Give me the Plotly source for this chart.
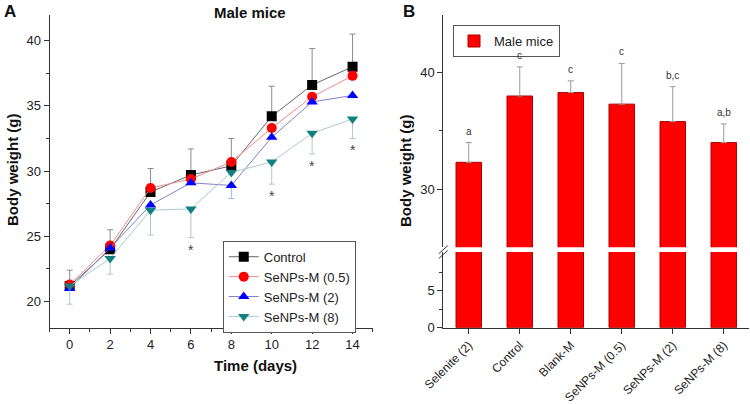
import plotly.graph_objects as go

# Panel A: body weight over time
days = [0, 2, 4, 6, 8, 10, 12, 14]
control = [21.2, 24.0, 28.4, 29.7, 30.4, 34.2, 36.6, 38.0]
control_sd = [1.2, 1.5, 1.8, 2.0, 2.1, 2.3, 2.8, 2.5]
senp_05 = [21.3, 24.3, 28.7, 29.4, 30.7, 33.3, 35.7, 37.3]
senp_2 = [21.0, 24.1, 27.4, 29.1, 28.9, 32.6, 35.3, 35.8]
senp_2_sd = [0, 0, 0, 0, 1.0, 0, 0, 0]
senp_8 = [21.2, 23.3, 27.0, 27.1, 29.9, 30.7, 32.9, 34.0]
senp_8_sd = [1.4, 1.2, 1.9, 2.2, 0, 1.7, 1.6, 1.5]
star_days = [6, 10, 12, 14]

# Panel B: final body weight
groups = ['Selenite (2)', 'Control', 'Blank-M', 'SeNPs-M (0.5)',
          'SeNPs-M (2)', 'SeNPs-M (8)']
final_weight = [32.3, 38.0, 38.3, 37.3, 35.8, 34.0]
final_sd = [1.7, 2.5, 1.0, 3.5, 3.0, 1.6]
letters = ['a', 'c', 'c', 'c', 'b,c', 'a,b']

FONT = 'Arial, Liberation Sans, sans-serif'
AXIS = '#333333'

fig = go.Figure()

series = [
    ('Control', control, 'square', '#000000', '#666666',
     dict(type='data', array=control_sd, symmetric=False,
          arrayminus=[0] * 8, color='#8c8c8c')),
    ('SeNPs-M (0.5)', senp_05, 'circle', '#ff0000', '#f08a8a', None),
    ('SeNPs-M (2)', senp_2, 'triangle-up', '#0000ff', '#8080c8',
     dict(type='data', array=[0] * 8, symmetric=False,
          arrayminus=senp_2_sd, color='#a8b8d8')),
    ('SeNPs-M (8)', senp_8, 'triangle-down', '#128080', '#a8cccc',
     dict(type='data', array=[0] * 8, symmetric=False,
          arrayminus=senp_8_sd, color='#b0c8c8')),
]
for name, ys, sym, mcol, lcol, err in series:
    fig.add_trace(go.Scatter(
        x=days, y=ys, name=name, mode='lines+markers',
        line=dict(color=lcol, width=1),
        marker=dict(symbol=sym, size=10, color=mcol),
        error_y=dict(err, thickness=1, width=3) if err else None,
        xaxis='x', yaxis='y', legend='legend',
    ))

for d in star_days:
    i = days.index(d)
    fig.add_annotation(
        x=d, y=senp_8[i] - senp_8_sd[i], xref='x', yref='y',
        text='*', showarrow=False, yanchor='top', yshift=-2,
        font=dict(size=14, color='#444444', family=FONT),
    )

# Panel B bars, drawn on both halves of the broken axis
for ya, xa, show in [('y2', 'x2', False), ('y3', 'x3', True)]:
    fig.add_trace(go.Bar(
        x=groups, y=final_weight, name='Male mice', width=0.5,
        marker=dict(color='#ff0000', line=dict(color='#b00000', width=1)),
        error_y=dict(type='data', array=final_sd, symmetric=False,
                     arrayminus=[0] * 6, color='#9a9a9a',
                     thickness=1, width=3) if show else None,
        xaxis=xa, yaxis=ya, showlegend=show, legend='legend2',
    ))

for g, v, s, t in zip(groups, final_weight, final_sd, letters):
    fig.add_annotation(
        x=g, y=v + s, xref='x3', yref='y3', text=t, showarrow=False,
        yanchor='bottom', yshift=4,
        font=dict(size=10, color='#333333', family=FONT),
    )

axis_common = dict(
    showline=True, linecolor=AXIS, linewidth=1, ticks='outside',
    ticklen=5, tickcolor=AXIS, showgrid=False, zeroline=False,
    automargin=False,
    tickfont=dict(size=13, color='#222222', family=FONT),
)
title_font = dict(size=15, color='#111111', family=FONT, weight='bold')

fig.update_layout(
    width=750, height=404,
    margin=dict(l=0, r=0, t=0, b=0),
    plot_bgcolor='white', paper_bgcolor='white',
    font=dict(family=FONT),
    xaxis=dict(
        axis_common, domain=[0.066, 0.497], range=[-1, 15],
        tickvals=days, anchor='y',
        minor=dict(ticks='outside', ticklen=3, dtick=1, tickcolor=AXIS),
    ),
    yaxis=dict(
        axis_common, domain=[0.189, 0.964], range=[18, 42],
        tickvals=[20, 25, 30, 35, 40], anchor='x',
        minor=dict(ticks='outside', ticklen=3, dtick=2.5, tickcolor=AXIS),
    ),
    xaxis2=dict(
        axis_common, domain=[0.591, 0.999], range=[-0.5, 5.5],
        anchor='y2', tickangle=-45,
        tickfont=dict(size=12, color='#222222', family=FONT),
    ),
    yaxis2=dict(
        axis_common, domain=[0.189, 0.376], range=[0, 10.2],
        tickvals=[0, 5], anchor='x2',
        minor=dict(ticks='outside', ticklen=3, tickvals=[2.5, 7.5],
                   tickcolor=AXIS),
    ),
    xaxis3=dict(
        domain=[0.591, 0.999], range=[-0.5, 5.5], anchor='y3',
        matches='x2', showticklabels=False, showline=False, ticks='',
        showgrid=False, automargin=False,
    ),
    yaxis3=dict(
        axis_common, domain=[0.388, 0.964], range=[25, 45],
        tickvals=[30, 40], anchor='x3',
        minor=dict(ticks='outside', ticklen=3, tickvals=[35],
                   tickcolor=AXIS),
    ),
    legend=dict(
        x=0.297, y=0.404, xanchor='left', yanchor='top',
        bgcolor='white', bordercolor='#555555', borderwidth=1,
        font=dict(size=13, color='#222222', family=FONT),
        tracegroupgap=0,
    ),
    legend2=dict(
        x=0.604, y=0.938, xanchor='left', yanchor='top',
        bgcolor='white', bordercolor='#555555', borderwidth=1,
        font=dict(size=13, color='#222222', family=FONT),
    ),
    annotations=list(fig.layout.annotations) + [
        dict(text='Male mice', x=0.283, y=0.995, xref='paper', yref='paper',
             showarrow=False, yanchor='top', font=title_font),
        dict(text='Time (days)', x=0.283, y=(404 - 365) / 404,
             xref='paper', yref='paper', showarrow=False,
             yanchor='middle', font=title_font),
        dict(text='Body weight (g)', x=12 / 750, y=(404 - 170) / 404,
             xref='paper', yref='paper', showarrow=False, textangle=-90,
             xanchor='center', yanchor='middle', font=title_font),
        dict(text='Body weight (g)', x=405 / 750, y=(404 - 171) / 404,
             xref='paper', yref='paper', showarrow=False, textangle=-90,
             xanchor='center', yanchor='middle', font=title_font),
        dict(text='A', x=0.003, y=1.0, xref='paper', yref='paper',
             showarrow=False, xanchor='left', yanchor='top',
             font=dict(size=17, color='#111111', family=FONT, weight='bold')),
        dict(text='B', x=0.535, y=1.0, xref='paper', yref='paper',
             showarrow=False, xanchor='left', yanchor='top',
             font=dict(size=17, color='#111111', family=FONT, weight='bold')),
    ],
    shapes=[
        dict(type='line', xref='paper', yref='paper', x0=0.585, x1=0.597,
             y0=0.372, y1=0.392, line=dict(color=AXIS, width=1)),
        dict(type='line', xref='paper', yref='paper', x0=0.585, x1=0.597,
             y0=0.360, y1=0.380, line=dict(color=AXIS, width=1)),
    ],
)

# drop the page's default body margin so the figure sits at the corner
fig.write_html('out.html', config={'displayModeBar': False},
               post_script="document.body.style.margin='0';")
